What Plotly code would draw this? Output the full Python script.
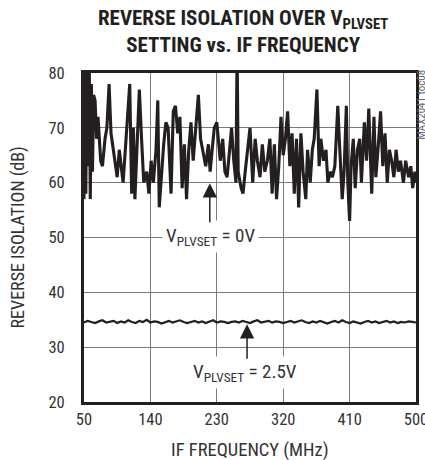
import plotly.graph_objects as go

# ---- data ----
freq_0v = [50, 51, 52.5, 54, 55.5, 57, 58.5, 60, 61.5, 63, 65, 67, 69, 72.6, 75, 78.5, 81, 84, 86.6, 89.7,
           92, 95, 97.8, 101, 103, 107, 110, 112, 114.6, 117, 119, 122, 125, 128, 131, 135, 138, 141, 144, 147.6,
           150, 152, 155, 158, 161, 164, 168, 171, 174, 177, 180, 183, 186, 189, 192, 195, 198, 201, 205, 208,
           212, 215, 218.6, 221, 223.7, 226.6, 230, 234.7, 238, 241, 244, 247, 250, 253, 256, 257.5, 259, 263, 265.5, 268.5,
           271.6, 275, 278.7, 282, 285, 288.6, 291.7, 295, 298.5, 302, 305, 308, 311, 314, 317, 320, 323, 326, 329, 332,
           335, 338, 341, 344, 347, 350.6, 353, 356.6, 359.5, 362, 365.7, 368.7, 371, 374.6, 378, 380.5, 383.6, 386.7, 390, 392,
           394, 396, 400, 402.5, 405.6, 407.6, 410, 412, 415, 417.6, 420.7, 423.7, 426, 430, 433, 436, 440, 443, 445.6, 449,
           452, 455, 458, 461, 464, 467, 470, 473, 476, 479, 483, 486, 490, 493, 495.5, 498.6, 500]
iso_0v = [57, 84, 58, 84, 63, 84, 57, 78, 62, 76, 75, 68, 72, 64, 63, 68, 70, 78, 69, 66,
          64, 61, 66, 62, 60, 68, 73, 78, 58, 70, 57, 66, 77, 68, 60, 62, 58, 64, 60, 66,
          75, 55.5, 62, 67, 71, 70, 58, 73, 74, 69, 72, 59, 67, 57, 66, 71, 64, 69, 76, 68,
          65, 63, 67, 62, 66, 70, 71, 64, 68, 62, 61, 66, 70, 64, 60, 85, 62, 59, 58, 62,
          66, 70, 60, 68, 64, 61, 67, 62, 64, 68, 58, 67, 57, 63, 72, 65, 68, 73, 63, 69,
          58, 68, 55.5, 69, 62, 57, 66, 60, 66, 68, 77, 63, 68, 64, 66, 60, 62, 61, 63, 70,
          74, 68, 57, 62, 74, 60, 53, 63, 68, 59, 66, 68, 60, 71, 64, 73.5, 58, 72, 61, 67,
          73, 63, 69, 60, 66, 64, 61, 66, 62, 64, 60, 64, 61, 63, 59, 62, 60]

freq_25v = list(range(50, 505, 5))
iso_25v = [34.5, 34.8, 34.6, 34.4, 34.7, 34.9, 34.5, 34.6, 34.8, 34.4,
           34.7, 34.5, 34.9, 34.6, 34.4, 34.8, 34.6, 35.0, 34.5, 34.7,
           34.6, 34.3, 34.6, 34.8, 34.5, 34.7, 34.9, 34.6, 34.4, 34.6,
           34.8, 34.5, 34.7, 34.4, 34.6, 34.9, 34.5, 34.7, 34.6, 34.4,
           34.6, 34.7, 34.5, 34.8, 34.6, 34.4, 34.7, 34.9, 34.5, 34.6,
           34.8, 34.5, 34.7, 34.6, 34.4, 34.6, 34.8, 34.5, 34.7, 34.9,
           34.6, 34.4, 34.7, 34.5, 34.8, 34.6, 34.3, 34.6, 34.8, 34.5,
           34.9, 34.6, 34.4, 34.7, 34.5, 34.3, 34.6, 34.8, 34.5, 34.7,
           34.4, 34.6, 34.8, 34.5, 34.7, 34.4, 34.6, 34.5, 34.7, 34.6,
           34.5]

x_ticks = [50, 140, 230, 320, 410, 500]
y_ticks = [20, 30, 40, 50, 60, 70, 80]

FONT = "Liberation Sans Narrow, Roboto Condensed, DejaVu Sans Condensed, Arial Narrow, sans-serif"
INK = "#231f20"
TXT = "#333333"

fig = go.Figure()
fig.add_trace(go.Scatter(x=freq_0v, y=iso_0v, mode="lines",
                         line=dict(color=INK, width=3.1), hoverinfo="skip"))
fig.add_trace(go.Scatter(x=freq_25v, y=iso_25v, mode="lines",
                         line=dict(color=INK, width=2.2), hoverinfo="skip"))

axis_common = dict(showgrid=True, gridcolor="#7a7a7a", gridwidth=1,
                   showline=True, linecolor=INK, linewidth=3, mirror=True,
                   zeroline=False, ticks="", automargin=False, ticklabeloverflow="allow",
                   tickfont=dict(family=FONT, size=16.5, color=TXT))

fig.update_xaxes(range=[50, 500], tickvals=x_ticks, ticktext=[str(v) for v in x_ticks],
                 ticklabelstandoff=0, **axis_common)
fig.update_yaxes(range=[20, 80], tickvals=y_ticks, ticktext=[str(v) for v in y_ticks],
                 ticklabelstandoff=13, **axis_common)

ann = []
ann.append(dict(xref="paper", yref="paper", x=0.479, y=1.125, xanchor="center", yanchor="middle",
                text="<b>REVERSE ISOLATION OVER V<sub>PLVSET</sub></b><br><b>SETTING vs. IF FREQUENCY</b>",
                showarrow=False, font=dict(family=FONT, size=21, color=INK)))
ann.append(dict(xref="paper", yref="paper", x=-0.199, y=0.5, xanchor="center", yanchor="middle",
                textangle=-90, text="REVERSE ISOLATION (dB)", showarrow=False,
                font=dict(family=FONT, size=18, color=TXT)))
ann.append(dict(xref="paper", yref="paper", x=0.5, y=-0.146, xanchor="center", yanchor="middle",
                text="IF FREQUENCY (MHz)", showarrow=False,
                font=dict(family=FONT, size=18.5, color=TXT)))
ann.append(dict(xref="paper", yref="paper", x=1.016, y=0.905, xanchor="center", yanchor="middle",
                textangle=-90, text="MAX2041 toc08", showarrow=False,
                font=dict(family=FONT, size=11, color="#666666")))
# labels
ann.append(dict(x=220.8, y=50.2, text="V<sub>PLVSET</sub> = 0V", showarrow=False,
                bgcolor="white", borderpad=3, font=dict(family=FONT, size=19, color=TXT)))
ann.append(dict(x=268.2, y=25.3, text="V<sub>PLVSET</sub> = 2.5V", showarrow=False,
                bgcolor="white", borderpad=3, font=dict(family=FONT, size=19, color=TXT)))
# arrows
ann.append(dict(x=220.5, y=59.9, ax=220.5, ay=52.5, axref="x", ayref="y", text="",
                showarrow=True, arrowhead=2, arrowsize=1.9, arrowwidth=1.5, arrowcolor=INK))
ann.append(dict(x=271.0, y=34.2, ax=271.0, ay=27.6, axref="x", ayref="y", text="",
                showarrow=True, arrowhead=2, arrowsize=1.9, arrowwidth=1.5, arrowcolor=INK))

fig.update_layout(width=425, height=460, margin=dict(l=84, r=9, t=73, b=58),
                  paper_bgcolor="white", plot_bgcolor="white", showlegend=False,
                  annotations=ann, font=dict(family=FONT, color=INK))

fig.write_html("out.html", config={"displayModeBar": False},
               post_script="document.body.style.margin='0';document.body.style.overflow='hidden';")
